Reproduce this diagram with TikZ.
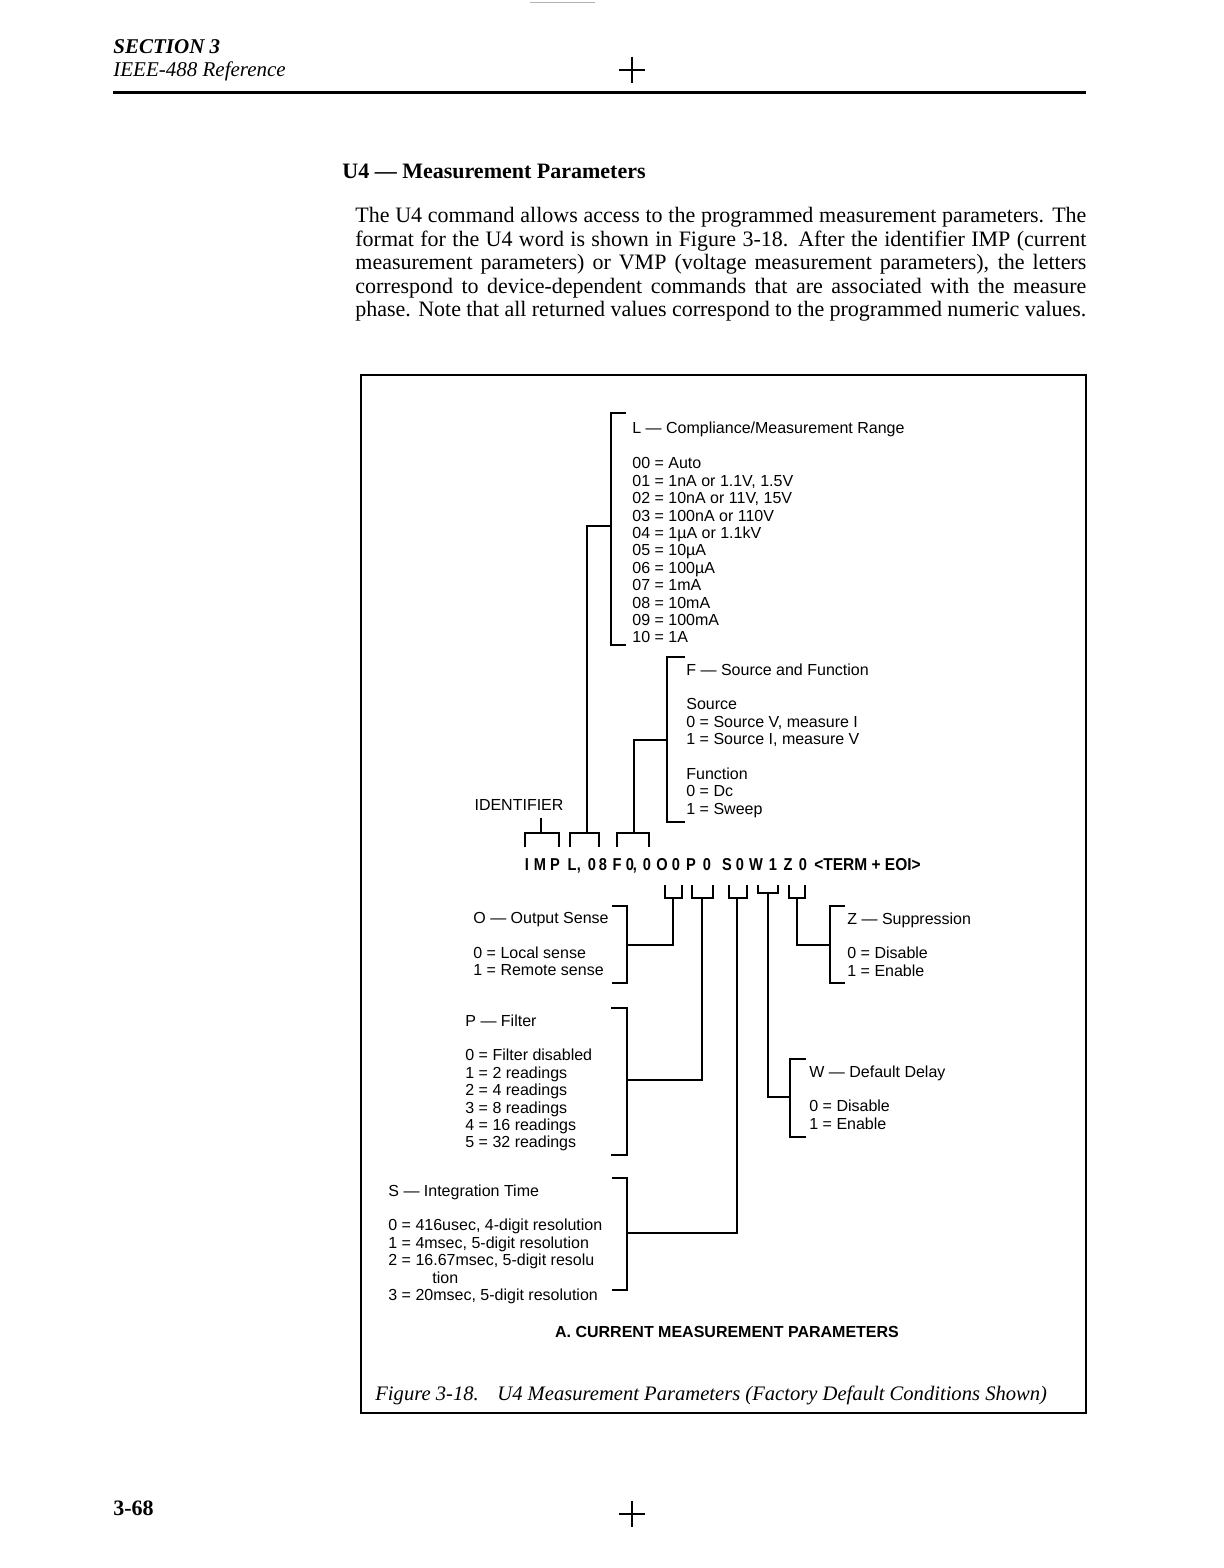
\documentclass[tikz,border=0pt]{standalone}
\usepackage{graphicx}
\usepackage{fontspec}
\setmainfont{Liberation Serif}
\newfontfamily\diagsans{Liberation Sans}
\usetikzlibrary{positioning}
\newcommand{\lstfont}{\diagsans\fontsize{8}{8.7}\selectfont}
\newcommand{\codefont}{\diagsans\bfseries\fontsize{8.6}{10}\selectfont}
\newcommand{\parline}[1]{\makebox[365.5pt][s]{#1}}
\newcommand{\narrow}[2][0.85]{\scalebox{#1}[1]{#2}}
\tikzset{
  brk/.style={line width=1.1pt},
  lnk/.style={line width=1.1pt},
  lst/.style={font=\lstfont, align=left, anchor=north west, inner sep=0pt},
  lbl/.style={font=\lstfont, anchor=base, inner sep=0pt},
  codech/.style={font=\codefont, anchor=base, inner sep=0pt},
  serif/.style={inner sep=0pt, anchor=base west},
  cross/.style={line width=0.6pt},
}

\begin{document}
\begin{tikzpicture}[x=0.5pt,y=-0.5pt]
  \useasboundingbox (0,0) rectangle (1224,1568);
  % page head
  \draw[gray!60, line width=0.4pt] (530,2) -- (595,2);
  \node[serif, font=\fontsize{10.5}{12}\selectfont\bfseries\itshape] (sect) at (113,54) {SECTION 3};
  \node[serif, font=\fontsize{10.5}{12}\selectfont\itshape] (sectref) at (113,77) {IEEE-488 Reference};
  \draw[line width=1.5pt] (113,93) -- (1086,93);
  \draw[cross] (619,70) -- (645,70) (632,57) -- (632,83);
  \node[serif, font=\fontsize{11}{13}\selectfont\bfseries] (title) at (342,178) {U4 — Measurement Parameters};
  \node[inner sep=0pt, anchor=north west, align=left, font=\fontsize{11}{11.75}\selectfont] (intro) at (355,207) {%
    \parline{The U4 command allows access to the programmed measurement parameters. The}\\
    \parline{format for the U4 word is shown in Figure 3-18. After the identifier IMP (current}\\
    \parline{measurement parameters) or VMP (voltage measurement parameters), the letters}\\
    \parline{correspond to device-dependent commands that are associated with the measure}\\
    \parline{phase. Note that all returned values correspond to the programmed numeric values.}};

  % figure frame
  \draw[line width=1pt] (361,375) rectangle (1086,1413);

  % L block
  \node[lst] (lrange) at (632,422) {L — Compliance/Measurement Range\\[8.7pt]
    00 = Auto\\ 01 = 1nA or 1.1V, 1.5V\\ 02 = 10nA or 11V, 15V\\ 03 = 100nA or 110V\\
    04 = 1µA or 1.1kV\\ 05 = 10µA\\ 06 = 100µA\\ 07 = 1mA\\ 08 = 10mA\\ 09 = 100mA\\ 10 = 1A};
  \draw[brk] (626,413) -- (611,413) -- (611,645) -- (626,645);

  % F block
  \node[lst] (fsrc) at (686,663) {F — Source and Function\\[8.7pt]
    Source\\ 0 = Source V, measure I\\ 1 = Source I, measure V\\[8.7pt]
    Function\\ 0 = Dc\\ 1 = Sweep};
  \draw[brk] (685,657) -- (667,657) -- (667,822) -- (685,822);

  \node[lbl] (ident) at (519,810) {IDENTIFIER};

  % the word
  \foreach \xc/\ch [count=\i] in {527/I,540/M,555/P,572/L,579/{,},592/0,603/8,617/F,630/0,635/{,},647/0,
      662/O,676/0,691/P,707/0,727/S,740/0,756/W,773/1,788/Z,803/0}
    \node[codech] (ch\i) at (\xc,870) {\narrow{\ch}};
  \node[codech, anchor=base west] (term) at (814,870) {\narrow[0.9]{<TERM + EOI>}};

  % brackets over the word
  \draw[brk] (525,847) -- (525,833) -- (559,833) -- (559,847);
  \draw[brk] (570,847) -- (570,833) -- (599,833) -- (599,847);
  \draw[brk] (617,847) -- (617,833) -- (649,833) -- (649,847);
  % brackets under the word
  \draw[brk] (665,885) -- (665,898) -- (682,898) -- (682,885);
  \draw[brk] (692,885) -- (692,898) -- (713,898) -- (713,885);
  \draw[brk] (729,885) -- (729,898) -- (747,898) -- (747,885);
  \draw[brk] (758,885) -- (758,893) -- (778,893) -- (778,885);
  \draw[brk] (789,885) -- (789,898) -- (805,898) -- (805,885);

  % O block
  \node[lst] (osense) at (473,912) {O — Output Sense\\[8.7pt] 0 = Local sense\\ 1 = Remote sense};
  \draw[brk] (612,906) -- (627,906) -- (627,983) -- (612,983);
  % Z block
  \node[lst] (zsupp) at (847,912) {Z — Suppression\\[8.7pt] 0 = Disable\\ 1 = Enable};
  \draw[brk] (845,906) -- (830,906) -- (830,983) -- (845,983);
  % P block
  \node[lst] (pfilt) at (465,1014) {P — Filter\\[8.7pt] 0 = Filter disabled\\ 1 = 2 readings\\
    2 = 4 readings\\ 3 = 8 readings\\ 4 = 16 readings\\ 5 = 32 readings};
  \draw[brk] (611,1008) -- (627,1008) -- (627,1155) -- (611,1155);
  % W block
  \node[lst] (wdel) at (809,1065) {W — Default Delay\\[8.7pt] 0 = Disable\\ 1 = Enable};
  \draw[brk] (806,1059) -- (790,1059) -- (790,1137) -- (806,1137);
  % S block
  \node[lst] (sint) at (388,1184) {S — Integration Time\\[8.7pt]
    0 = 416usec, 4-digit resolution\\ 1 = 4msec, 5-digit resolution\\
    2 = 16.67msec, 5-digit resolu\\ \hspace*{22pt}tion\\ 3 = 20msec, 5-digit resolution};
  \draw[brk] (612,1178) -- (627,1178) -- (627,1290) -- (612,1290);

  % connectors
  \coordinate (lbr) at (611,526);
  \coordinate (lcd) at (587,833);
  \coordinate (fbr) at (667,740);
  \coordinate (fcd) at (634,833);
  \coordinate (idtk) at (541,818);
  \coordinate (imp) at (541,833);
  \coordinate (ocd) at (673,898);
  \coordinate (obr) at (627,945);
  \coordinate (pcd) at (702,898);
  \coordinate (pbr) at (627,1080);
  \coordinate (scd) at (737,898);
  \coordinate (sbr) at (627,1233);
  \coordinate (wcd) at (768,893);
  \coordinate (wbr) at (790,1097);
  \coordinate (zcd) at (797,898);
  \coordinate (zbr) at (830,945);
  \draw[lnk] (lbr) -| (lcd);
  \draw[lnk] (fbr) -| (fcd);
  \draw[lnk] (idtk) -- (imp);
  \draw[lnk] (ocd) |- (obr);
  \draw[lnk] (pcd) |- (pbr);
  \draw[lnk] (scd) |- (sbr);
  \draw[lnk] (wcd) |- (wbr);
  \draw[lnk] (zcd) |- (zbr);

  \node[font=\diagsans\bfseries\fontsize{8}{10}\selectfont, inner sep=0pt] (subttl) at (727,1332) {A. CURRENT MEASUREMENT PARAMETERS};

  % caption
  \node[serif, font=\fontsize{10.3}{12}\selectfont\itshape] (figno) at (375,1400) {Figure 3-18.};
  \node[serif, font=\fontsize{10.3}{12}\selectfont\itshape] (figcap) at (497,1400) {U4 Measurement Parameters (Factory Default Conditions Shown)};

  % page foot
  \node[serif, font=\fontsize{11}{13}\selectfont\bfseries] (pageno) at (113,1515) {3-68};
  \draw[cross] (619,1514) -- (645,1514) (632,1501) -- (632,1527);
\end{tikzpicture}
\end{document}
